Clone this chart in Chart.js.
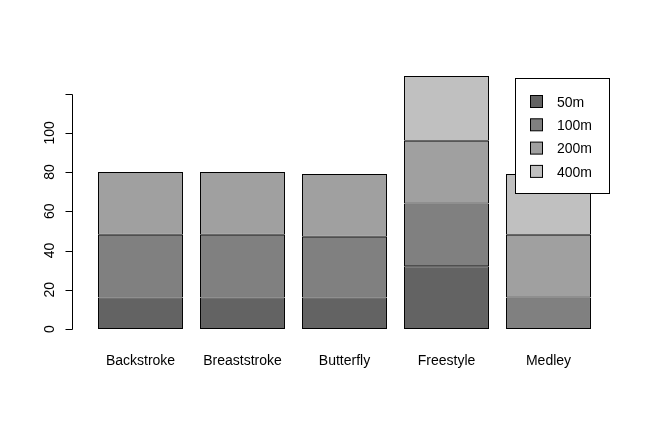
<!DOCTYPE html>
<html>
<head>
<meta charset="UTF-8">
<script src="https://cdn.jsdelivr.net/npm/chart.js@4.4.1/dist/chart.umd.min.js"></script>
<style>
  body { margin: 0; background: #fff; }
</style>
</head>
<body>
<canvas id="c" width="650" height="430"></canvas>
<script>
const strokes = ['Backstroke', 'Breaststroke', 'Butterfly', 'Freestyle', 'Medley'];
const distances = ['50m', '100m', '200m', '400m'];
const v50 = [16, 16, 16, 32, null];
const v100 = [32, 32, 31, 32, 16];
const v200 = [32, 32, 32, 32, 32];
const v400 = [null, null, null, 33, 31];
const yTicks = [0, 20, 40, 60, 80, 100];
const colors = ['#636363', '#808080', '#a0a0a0', '#c0c0c0'];
const font = '14px "Liberation Sans", Arial, sans-serif';

// axes, labels and legend drawn R-style
const rDecor = {
  id: 'rDecor',
  afterDraw(chart) {
    const ctx = chart.ctx, y = chart.scales.y, x = chart.scales.x;
    ctx.save();
    ctx.strokeStyle = '#000'; ctx.fillStyle = '#000'; ctx.lineWidth = 1;
    const ax = 72.5;
    ctx.beginPath();
    ctx.moveTo(ax, Math.round(y.getPixelForValue(0)) + 0.5);
    ctx.lineTo(ax, Math.round(y.getPixelForValue(120)) + 0.5);
    for (let t = 0; t <= 120; t += 20) {
      const py = Math.round(y.getPixelForValue(t)) + 0.5;
      ctx.moveTo(ax, py); ctx.lineTo(ax - 7, py);
    }
    ctx.stroke();
    ctx.font = font; ctx.textAlign = 'center'; ctx.textBaseline = 'middle';
    yTicks.forEach(t => {
      ctx.save();
      ctx.translate(50, y.getPixelForValue(t));
      ctx.rotate(-Math.PI / 2);
      ctx.fillText(String(t), 0, 0);
      ctx.restore();
    });
    strokes.forEach((s, i) => ctx.fillText(s, x.getPixelForValue(i), 361));
    // legend
    ctx.fillStyle = '#fff';
    ctx.fillRect(515.5, 78.5, 94, 115);
    ctx.strokeRect(515.5, 78.5, 94, 115);
    ctx.textAlign = 'left';
    distances.forEach((d, i) => {
      const ly = 102 + i * 23.3;
      ctx.fillStyle = colors[i];
      ctx.fillRect(530.5, ly - 6.5, 12, 12);
      ctx.strokeRect(530.5, ly - 6.5, 12, 12);
      ctx.fillStyle = '#000';
      ctx.fillText(d, 557, ly + 1);
    });
    ctx.restore();
  }
};

const series = [v50, v100, v200, v400];
new Chart(document.getElementById('c'), {
  type: 'bar',
  data: {
    labels: strokes,
    datasets: distances.map((d, i) => ({
      label: d, data: series[i], backgroundColor: colors[i],
      borderColor: '#000', borderWidth: 1, borderSkipped: false,
      barPercentage: 0.833, categoryPercentage: 1
    }))
  },
  options: {
    responsive: false, animation: false,
    layout: { padding: { left: 89.5, right: 50.5, top: 74, bottom: 101 } },
    plugins: { legend: { display: false }, tooltip: { enabled: false } },
    scales: {
      x: { stacked: true, display: false },
      y: { stacked: true, display: false, min: 0, max: 130 }
    }
  },
  plugins: [rDecor]
});
</script>
</body>
</html>
